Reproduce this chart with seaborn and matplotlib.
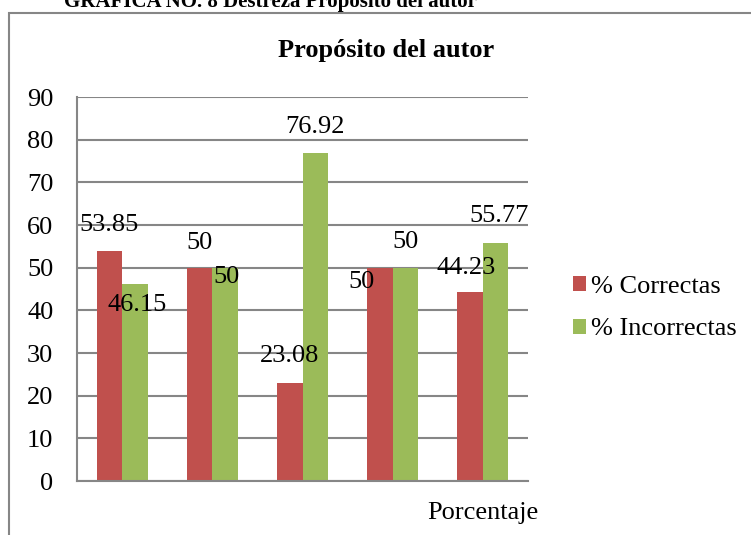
import pandas as pd
import numpy as np
import matplotlib
matplotlib.use("Agg")
import matplotlib.pyplot as plt
import seaborn as sns
from matplotlib.patches import Rectangle, Patch

# data
grupos = ["1", "2", "3", "4", "5"]
correctas = [53.85, 50, 23.08, 50, 44.23]
incorrectas = [46.15, 50, 76.92, 50, 55.77]
series = ["% Correctas", "% Incorrectas"]
colores = ["#C0504D", "#9BBB59"]

df = pd.DataFrame({
    "grupo": grupos * 2,
    "serie": [series[0]] * 5 + [series[1]] * 5,
    "valor": correctas + incorrectas,
})

sns.set_style("white")
plt.rcParams["font.family"] = ["Liberation Serif", "DejaVu Serif"]
plt.rcParams["text.color"] = "black"
plt.rcParams["ytick.color"] = "black"
plt.rcParams["ytick.labelcolor"] = "black"

fig = plt.figure(figsize=(7.51, 5.35), dpi=100)
ax = fig.add_axes([77 / 751, 1 - 481 / 535, 451 / 751, 384 / 535])

sns.barplot(data=df, x="grupo", y="valor", hue="serie", palette=colores,
            width=0.565, gap=0, legend=False, ax=ax, saturation=1, linewidth=0)

ax.set_ylim(0, 90)
ax.set_yticks(range(0, 91, 10))
ax.set_xticks([])
ax.set_xlabel("")
ax.set_ylabel("")
ax.tick_params(axis="y", length=0, pad=17, labelsize=19, labelcolor="black")
ax.yaxis.grid(True, color="#868686", linewidth=1.5)
ax.set_axisbelow(True)
for s in ["top", "right"]:
    ax.spines[s].set_visible(False)
for s in ["left", "bottom"]:
    ax.spines[s].set_color("#868686")
    ax.spines[s].set_linewidth(1.5)

# data labels (offsets in pixels, Excel-style placement)
offsets = [
    [(0, 26), (0, 25), (0, 27), (-18, -14), (-4, 24)],
    [(2, -21), (1, -9), (0, 26), (0, 26), (3, 27)],
]
for k, cont in enumerate(ax.containers):
    for j, bar in enumerate(cont):
        val = bar.get_height()
        ax.annotate(f"{val:g}", xy=(bar.get_x() + bar.get_width() / 2, val),
                    xytext=offsets[k][j], textcoords="offset pixels",
                    ha="center", va="center", fontsize=19, color="black")

ax.text(4, -7.4, "Porcentaje", ha="center", va="center", fontsize=19, color="black")

# legend
handles = [Patch(facecolor=c, edgecolor="none") for c in colores]
fig.legend(handles, series, loc="center left", bbox_to_anchor=(549 / 751, 1 - 308 / 535),
           frameon=False, fontsize=19, handlelength=0.5, handleheight=0.5,
           handletextpad=0.2, labelspacing=0.79, labelcolor="black")

# titles and chart border
fig.text(386 / 751, 1 - 51 / 535, "Propósito del autor", ha="center", va="center",
         fontsize=19, fontweight="bold", color="black")
fig.text(270 / 751, 1 - 7 / 535, "GRÁFICA NO. 8 Destreza Propósito del autor",
         ha="center", va="baseline", fontsize=15, fontweight="bold", color="black")
fig.patches.append(Rectangle((9 / 751, -0.1), 1.2, 1 - 13 / 535 + 0.1,
                             transform=fig.transFigure, fill=False,
                             edgecolor="#868686", linewidth=1.5))

fig.savefig("out.png", dpi=100)
